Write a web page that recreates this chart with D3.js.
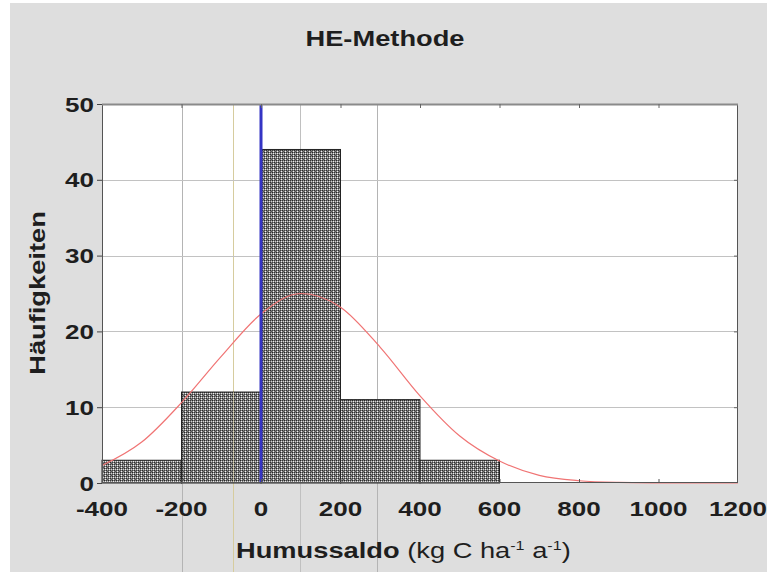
<!DOCTYPE html>
<html>
<head>
<meta charset="utf-8">
<script src="https://cdn.jsdelivr.net/npm/d3@7"></script>
<style>
  body { margin: 0; background: #fff; }
  svg { display: block; font-family: "Liberation Sans", Arial, sans-serif; }
</style>
</head>
<body>
<svg id="chart" width="767" height="572"></svg>
<script>
// MARK: Data.

const binStarts = [-400, -200, 0, 200, 400]
const binCounts = [3, 12, 44, 11, 3]
const binWidth  = 200

// fitted normal curve, sampled every 100 units
const curveX = [-400, -300, -200, -100, 0, 100, 200, 300, 400, 500, 600, 700, 800, 900, 1000, 1100, 1200]
const curveY = [2.3, 5.4, 10.6, 16.7, 22.3, 25, 23.2, 17.9, 11.5, 6.2, 2.9, 1.0, 0.3, 0.08, 0.02, 0, 0]

// odd vertical reference lines (they run on below the plot)
const refLines  = [-200, -70, 98, 292]
const refColors = ['#b4b4b4', '#d6cc9e', '#c0c0c0', '#b4b4b4']

const xTicks = [-400, -200, 0, 200, 400, 600, 800, 1000, 1200]
const yTicks = [0, 10, 20, 30, 40, 50]

// MARK: Layout.

const W = 767, H = 572
const plot = { left: 102, right: 738, top: 104, bottom: 483 }
const SX = 1.24   // the picture's text is stretched sideways

const svg = d3.select('#chart')

const x = d3.scaleLinear().domain([-400, 1200]).range([plot.left, plot.right])
const y = d3.scaleLinear().domain([0, 50]).range([plot.bottom, plot.top])

// stretched text helper
function label(px, py, txt, size, opts = {}) {
  const g = svg.append('g')
    .attr('transform', `translate(${px},${py}) ${opts.rotate ? 'rotate(-90)' : ''} scale(${SX},1)`)
  return g.append('text')
    .attr('text-anchor', opts.anchor || 'middle')
    .attr('font-size', size)
    .attr('font-weight', opts.bold === false ? 'normal' : 'bold')
    .attr('fill', '#1e1e1e')
    .text(txt)
}

// background: white strip on left/top, light gray panel
svg.append('rect').attr('width', W).attr('height', H).attr('fill', '#fff')
svg.append('rect')
  .attr('x', 10).attr('y', 3)
  .attr('width', W - 10).attr('height', H - 3)
  .attr('fill', '#dedede')

// crosshatch pattern for bars
const defs = svg.append('defs')
const pat = defs.append('pattern')
  .attr('id', 'hatch')
  .attr('patternUnits', 'userSpaceOnUse')
  .attr('width', 4).attr('height', 4)
pat.append('rect').attr('width', 4).attr('height', 4).attr('fill', '#7c7c7c')
const dots = [
  [0, 0, '#262626'], [2, 0, '#363636'], [1, 1, '#eeeeee'], [3, 1, '#cfcfcf'],
  [0, 2, '#404040'], [2, 2, '#2a2a2a'], [1, 3, '#f2f2f2'], [3, 3, '#5a5a5a'],
]
pat.selectAll('rect.d').data(dots).enter()
  .append('rect').attr('class', 'd')
  .attr('x', (d) => d[0]).attr('y', (d) => d[1])
  .attr('width', 1).attr('height', 1)
  .attr('fill', (d) => d[2])

// plot area
svg.append('rect')
  .attr('x', plot.left).attr('y', plot.top)
  .attr('width', plot.right - plot.left).attr('height', plot.bottom - plot.top)
  .attr('fill', '#fff')

// reference lines, running from the plot top to the bottom of the picture
svg.append('g').selectAll('line')
  .data(refLines).enter()
  .append('line')
  .attr('x1', (d) => Math.round(x(d)) + 0.5)
  .attr('x2', (d) => Math.round(x(d)) + 0.5)
  .attr('y1', plot.top)
  .attr('y2', H)
  .attr('stroke', (d, i) => refColors[i])

// horizontal gridlines
svg.append('g').selectAll('line')
  .data(yTicks.filter((d) => d > 0 && d < 50)).enter()
  .append('line')
  .attr('x1', plot.left).attr('x2', plot.right)
  .attr('y1', (d) => Math.round(y(d)) + 0.5)
  .attr('y2', (d) => Math.round(y(d)) + 0.5)
  .attr('stroke', '#c2c2c2')

// bars
svg.append('g').selectAll('rect')
  .data(binStarts).enter()
  .append('rect')
  .attr('x', (d) => x(d))
  .attr('y', (d, i) => y(binCounts[i]))
  .attr('width', (d) => x(d + binWidth) - x(d))
  .attr('height', (d, i) => y(0) - y(binCounts[i]))
  .attr('fill', 'url(#hatch)')
  .attr('stroke', '#222')

// reference line showing through the bars
svg.append('line')
  .attr('x1', Math.round(x(refLines[1])) + 0.5)
  .attr('x2', Math.round(x(refLines[1])) + 0.5)
  .attr('y1', y(binCounts[1])).attr('y2', plot.bottom)
  .attr('stroke', refColors[1]).attr('stroke-opacity', 0.6)

// normal curve
const line = d3.line()
  .x((d, i) => x(curveX[i]))
  .y((d) => y(d))
  .curve(d3.curveMonotoneX)
svg.append('path')
  .datum(curveY)
  .attr('d', line)
  .attr('fill', 'none')
  .attr('stroke', '#f07474')
  .attr('stroke-width', 1.2)

// blue line at 0
svg.append('line')
  .attr('x1', x(0)).attr('x2', x(0))
  .attr('y1', plot.top).attr('y2', plot.bottom)
  .attr('stroke', '#3434c4')
  .attr('stroke-width', 3)

// frame
svg.append('rect')
  .attr('x', plot.left + 0.5).attr('y', plot.top + 0.5)
  .attr('width', plot.right - plot.left - 1).attr('height', plot.bottom - plot.top - 1)
  .attr('fill', 'none')
  .attr('stroke', '#555')
svg.append('line')
  .attr('x1', plot.left).attr('x2', plot.right)
  .attr('y1', plot.top + 0.5).attr('y2', plot.top + 0.5)
  .attr('stroke', '#8a8a8a').attr('stroke-width', 2)

// tick marks: outward on the left, small inward ones elsewhere
const yAxis = svg.append('g')
  .attr('transform', `translate(${plot.left},0)`)
  .call(d3.axisLeft(y).tickValues(yTicks).tickSize(5).tickFormat(''))
yAxis.select('.domain').remove()
yAxis.selectAll('line').attr('stroke', '#444')

svg.append('g')
  .attr('transform', `translate(${plot.right},0)`)
  .call(d3.axisLeft(y).tickValues(yTicks.slice(1, -1)).tickSize(4).tickFormat(''))
  .call((g) => g.select('.domain').remove())
  .selectAll('line').attr('stroke', '#666')

svg.append('g')
  .attr('transform', `translate(0,${plot.top})`)
  .call(d3.axisBottom(x).tickValues(xTicks.slice(1, -1)).tickSize(4).tickFormat(''))
  .call((g) => g.select('.domain').remove())
  .selectAll('line').attr('stroke', '#666')

svg.append('g')
  .attr('transform', `translate(0,${plot.bottom})`)
  .call(d3.axisTop(x).tickValues(xTicks.slice(1, -1)).tickSize(4).tickFormat(''))
  .call((g) => g.select('.domain').remove())
  .selectAll('line').attr('stroke', '#555')

// tick labels
xTicks.forEach((d) => label(x(d), 516, String(d), 21))
yTicks.forEach((d) => label(94, y(d) + 7.5, String(d), 21, { anchor: 'end' }))

// title
label(385, 46, 'HE-Methode', 22)

// y label
label(45, 293, 'Häufigkeiten', 22, { rotate: true })

// x label
const xl = label(236, 558, '', 22, { anchor: 'start' })
xl.append('tspan').text('Humussaldo')
xl.append('tspan').attr('font-weight', 'normal').text(' (kg C ha')
xl.append('tspan').attr('font-weight', 'normal').attr('font-size', 13).attr('dy', -8).text('-1')
xl.append('tspan').attr('font-weight', 'normal').attr('dy', 8).text(' a')
xl.append('tspan').attr('font-weight', 'normal').attr('font-size', 13).attr('dy', -8).text('-1')
xl.append('tspan').attr('font-weight', 'normal').attr('dy', 8).text(')')
</script>
</body>
</html>
